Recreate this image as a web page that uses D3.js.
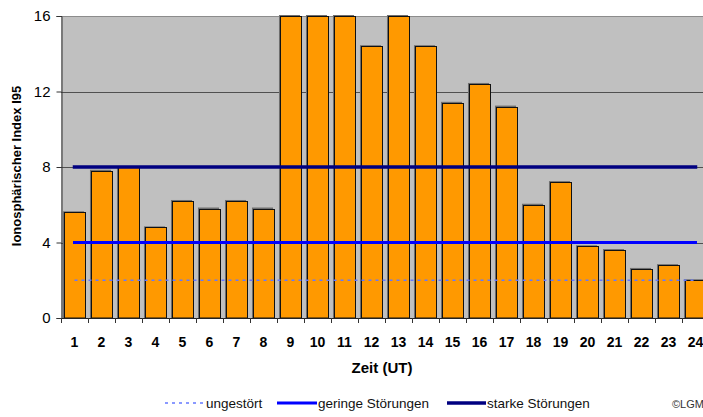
<!DOCTYPE html>
<html><head><meta charset="utf-8">
<script src="https://cdn.jsdelivr.net/npm/d3@7"></script>
<style>
html,body{margin:0;padding:0;background:#fff;overflow:hidden;}
text{font-family:Arial,"Liberation Sans",sans-serif;}
</style></head>
<body>
<svg id="chart" width="703" height="417"></svg>
<script>
// ---- data ----
const hours = ["1","2","3","4","5","6","7","8","9","10","11","12","13","14","15","16","17","18","19","20","21","22","23","24"];
const indexValues = [5.6,7.8,8.0,4.8,6.2,5.8,6.2,5.8,16,16,16,14.4,16,14.4,11.4,12.4,11.2,6.0,7.2,3.8,3.6,2.6,2.8,2.0];
const ungestoert = [2,2,2,2,2,2,2,2,2,2,2,2,2,2,2,2,2,2,2,2,2,2,2,2];
const geringe   = [4,4,4,4,4,4,4,4,4,4,4,4,4,4,4,4,4,4,4,4,4,4,4,4];
const starke    = [8,8,8,8,8,8,8,8,8,8,8,8,8,8,8,8,8,8,8,8,8,8,8,8];
const yTicks = [0,4,8,12,16];
const legendLabels = ["ungestört","geringe Störungen","starke Störungen"];
const xTitle = "Zeit (UT)";
const yTitle = "Ionosphärischer Index I95";
const credit = "©LGM";

// ---- layout ----
const pLeft = 61, pTop = 16, pBottom = 318, pRight = 709;
const svg = d3.select("#chart");

const x = d3.scaleBand().domain(hours).range([pLeft, pRight]).paddingInner(0.22).paddingOuter(0.11);
const xc = d3.scalePoint().domain(hours).range([pLeft, pRight]).padding(0.5);
const y = d3.scaleLinear().domain([0, 16]).range([pBottom, pTop]);

// plot background
svg.append("rect").attr("x", pLeft).attr("y", pTop).attr("width", pRight - pLeft).attr("height", pBottom - pTop).attr("fill", "#c0c0c0");

// gridlines
svg.append("g").selectAll("line").data(yTicks.filter(d => d > 0)).join("line")
  .attr("x1", pLeft).attr("x2", pRight)
  .attr("y1", d => Math.round(y(d)) + 0.5).attr("y2", d => Math.round(y(d)) + 0.5)
  .attr("stroke", d => d === 16 ? "#8c8c8c" : "#505050").attr("stroke-width", 1);

// bars (shadow + bar)
const bars = svg.append("g");
bars.selectAll("rect.sh").data(indexValues).join("rect").attr("class", "sh")
  .attr("x", (d, i) => x(hours[i]) - 1).attr("y", d => y(d) - 1)
  .attr("width", x.bandwidth()).attr("height", d => pBottom - y(d) + 1)
  .attr("fill", "#6e6e6e");
bars.selectAll("rect.b").data(indexValues).join("rect").attr("class", "b")
  .attr("x", (d, i) => Math.round(x(hours[i])) + 0.5).attr("y", d => Math.round(y(d)) + 0.5)
  .attr("width", Math.round(x.bandwidth())).attr("height", d => pBottom - Math.round(y(d)) - 0.5)
  .attr("fill", "#ff9900").attr("stroke", "#111").attr("stroke-width", 1);

// threshold lines
const line = d3.line().x((d, i) => xc(hours[i])).y(d => y(d));
svg.append("path").datum(ungestoert).attr("d", line).attr("fill", "none")
  .attr("stroke", "#6478ff").attr("stroke-width", 1.4).attr("stroke-dasharray", "3,4");
svg.append("path").datum(geringe).attr("d", line).attr("fill", "none")
  .attr("stroke", "#0000ff").attr("stroke-width", 3).attr("stroke-linecap", "square");
svg.append("path").datum(starke).attr("d", line).attr("fill", "none")
  .attr("stroke", "#000080").attr("stroke-width", 3.5).attr("stroke-linecap", "square");

// y axis
const yAxis = svg.append("g").attr("transform", `translate(${pLeft + 0.5},0)`)
  .call(d3.axisLeft(y).tickValues(yTicks).tickSize(5).tickPadding(6).tickFormat(d3.format("d")));
yAxis.select(".domain").attr("stroke", "#333");
yAxis.selectAll(".tick line").attr("stroke", "#333");
yAxis.selectAll(".tick text").attr("font-size", 15).attr("fill", "#000").attr("font-family", "Arial, 'Liberation Sans', sans-serif");

// x axis: tick marks at category boundaries
const xAxisG = svg.append("g");
xAxisG.append("line").attr("x1", pLeft).attr("x2", pRight).attr("y1", pBottom + 0.5).attr("y2", pBottom + 0.5).attr("stroke", "#222");
xAxisG.selectAll("line.t").data(hours).join("line").attr("class", "t")
  .attr("x1", d => Math.round(xc(d) - x.step() / 2) + 0.5).attr("x2", d => Math.round(xc(d) - x.step() / 2) + 0.5)
  .attr("y1", pBottom).attr("y2", pBottom + 5).attr("stroke", "#333");
xAxisG.selectAll("text").data(hours).join("text")
  .attr("x", d => xc(d)).attr("y", 347).attr("text-anchor", "middle")
  .attr("font-size", 14).attr("font-weight", "bold").attr("fill", "#000").text(d => d);

// axis titles
svg.append("text").attr("x", 382).attr("y", 373).attr("text-anchor", "middle")
  .attr("font-size", 15).attr("font-weight", "bold").text(xTitle);
svg.append("text").attr("transform", "translate(21,166) rotate(-90)").attr("text-anchor", "middle")
  .attr("font-size", 13).attr("font-weight", "bold").text(yTitle);

// legend
const lg = svg.append("g");
const legItems = [
  {x1: 165, x2: 203, tx: 206, stroke: "#6478ff", w: 1.4, dash: "3,4"},
  {x1: 277, x2: 317, tx: 318, stroke: "#0000ff", w: 3, dash: null},
  {x1: 447, x2: 486, tx: 487, stroke: "#000080", w: 3.5, dash: null}
];
legItems.forEach((it, i) => {
  lg.append("line").attr("x1", it.x1).attr("x2", it.x2).attr("y1", 403).attr("y2", 403)
    .attr("stroke", it.stroke).attr("stroke-width", it.w).attr("stroke-dasharray", it.dash);
  lg.append("text").attr("x", it.tx).attr("y", 408).attr("font-size", 13.5).attr("fill", "#111").text(legendLabels[i]);
});
svg.append("text").attr("x", 672).attr("y", 408).attr("font-size", 11).attr("fill", "#333").text(credit);
</script>
</body></html>
